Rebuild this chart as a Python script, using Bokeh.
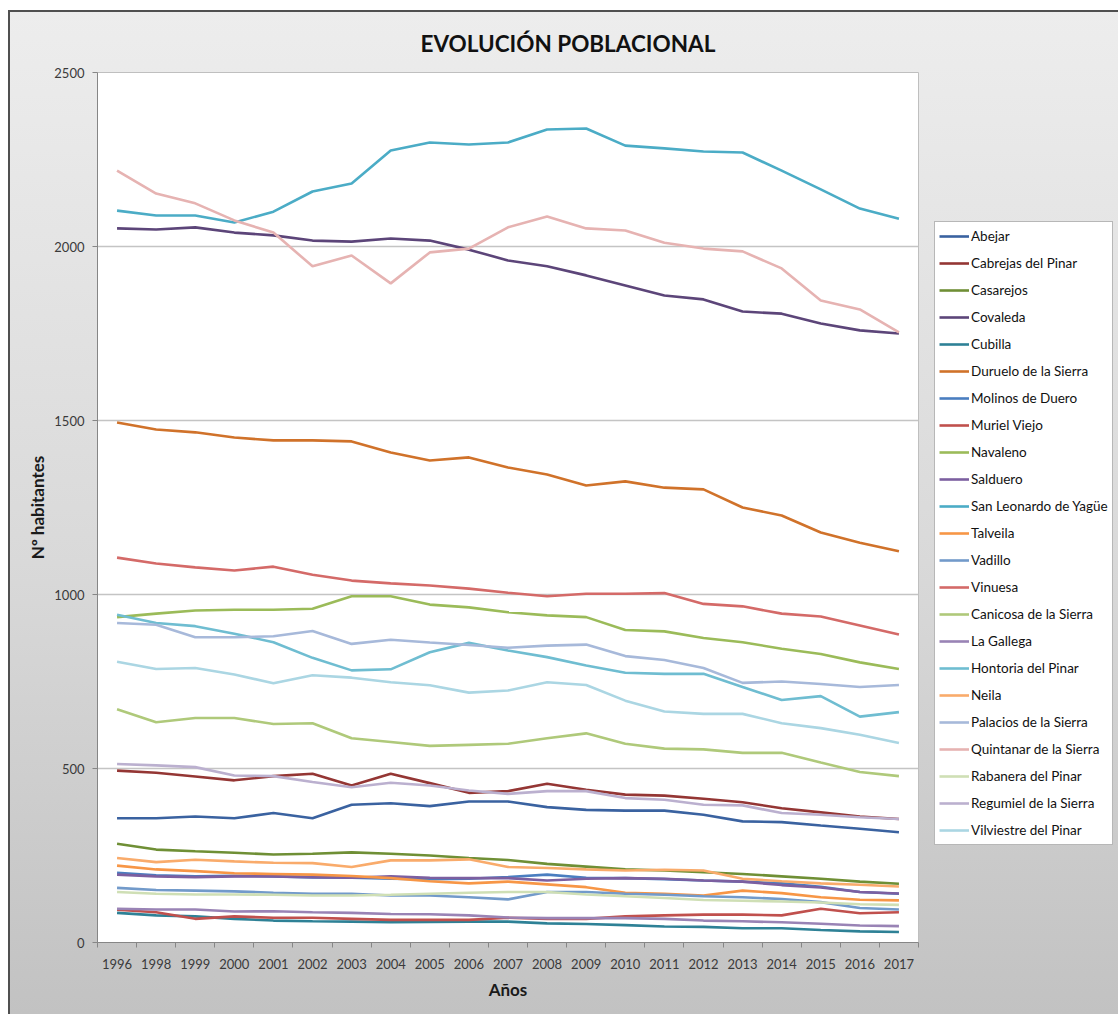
from bokeh.plotting import figure
from bokeh.models import Legend, LegendItem, FixedTicker, Range1d
from bokeh.embed import file_html
from bokeh.resources import INLINE

years = ["1996", "1998", "1999", "2000", "2001", "2002", "2003", "2004", "2005", "2006", "2007",
         "2008", "2009", "2010", "2011", "2012", "2013", "2014", "2015", "2016", "2017"]

abejar = [357, 357, 362, 357, 372, 357, 396, 400, 392, 405, 405, 389, 381, 379, 379, 367, 348, 346, 336, 327, 317]
cabrejas = [494, 488, 477, 466, 478, 485, 451, 485, 458, 430, 435, 456, 439, 425, 422, 413, 403, 386, 374, 362, 355]
casarejos = [284, 267, 262, 258, 253, 255, 259, 255, 250, 243, 237, 226, 218, 210, 207, 202, 197, 190, 183, 175, 169]
covaleda = [2052, 2049, 2055, 2040, 2032, 2017, 2014, 2023, 2017, 1991, 1960, 1943, 1917, 1888, 1859, 1848, 1813, 1807, 1779, 1759, 1750]
cubilla = [85, 78, 75, 68, 63, 61, 60, 58, 59, 60, 60, 55, 53, 50, 46, 45, 41, 41, 36, 32, 30]
duruelo = [1494, 1474, 1466, 1451, 1443, 1443, 1440, 1408, 1385, 1394, 1365, 1345, 1313, 1325, 1307, 1302, 1250, 1227, 1178, 1149, 1124]
molinos = [200, 193, 190, 192, 190, 187, 186, 183, 182, 183, 188, 195, 186, 185, 182, 178, 175, 170, 160, 145, 140]
muriel = [94, 87, 68, 75, 71, 71, 68, 65, 65, 65, 71, 68, 68, 75, 78, 80, 80, 78, 97, 84, 87]
navaleno = [935, 945, 954, 956, 956, 959, 995, 995, 971, 963, 949, 940, 935, 898, 894, 875, 863, 844, 829, 805, 786]
salduero = [195, 190, 188, 190, 190, 188, 186, 190, 186, 185, 185, 178, 183, 185, 183, 178, 175, 165, 158, 145, 141]
san_leonardo = [2103, 2089, 2089, 2069, 2100, 2158, 2181, 2276, 2299, 2293, 2299, 2336, 2339, 2290, 2282, 2273, 2270, 2218, 2164, 2109, 2080]
talveila = [221, 210, 205, 199, 197, 195, 191, 185, 176, 170, 175, 167, 159, 143, 140, 135, 149, 142, 130, 123, 121]
vadillo = [157, 151, 149, 147, 143, 140, 140, 135, 135, 130, 124, 145, 145, 140, 137, 133, 130, 125, 116, 99, 95]
vinuesa = [1106, 1089, 1078, 1069, 1080, 1057, 1040, 1032, 1026, 1017, 1005, 995, 1002, 1002, 1004, 973, 966, 945, 937, 911, 885]
canicosa = [670, 633, 645, 645, 628, 630, 587, 576, 565, 568, 571, 587, 601, 571, 557, 555, 545, 545, 517, 490, 478]
la_gallega = [97, 95, 95, 89, 90, 87, 85, 82, 81, 78, 72, 70, 70, 70, 68, 63, 61, 58, 54, 49, 47]
hontoria = [942, 918, 909, 887, 863, 818, 782, 785, 834, 861, 839, 820, 796, 775, 772, 772, 734, 697, 708, 649, 662]
neila = [243, 231, 238, 233, 229, 228, 217, 236, 236, 239, 217, 214, 210, 207, 209, 207, 183, 176, 170, 166, 161]
palacios = [918, 913, 877, 877, 880, 895, 858, 870, 862, 855, 847, 853, 856, 823, 812, 789, 746, 750, 743, 734, 740]
quintanar = [2218, 2152, 2124, 2075, 2040, 1943, 1974, 1894, 1983, 1994, 2055, 2086, 2052, 2046, 2011, 1994, 1986, 1937, 1845, 1819, 1753]
rabanera = [145, 140, 138, 138, 137, 135, 135, 137, 140, 143, 145, 145, 138, 133, 128, 122, 120, 118, 115, 110, 108]
regumiel = [513, 509, 504, 480, 478, 461, 446, 459, 451, 437, 427, 435, 435, 415, 410, 396, 394, 372, 367, 360, 355]
vilviestre = [807, 786, 789, 770, 745, 768, 761, 748, 739, 718, 724, 748, 740, 695, 664, 657, 657, 630, 616, 597, 573]

names = ["Abejar", "Cabrejas del Pinar", "Casarejos", "Covaleda", "Cubilla", "Duruelo de la Sierra",
         "Molinos de Duero", "Muriel Viejo", "Navaleno", "Salduero", "San Leonardo de Yagüe", "Talveila",
         "Vadillo", "Vinuesa", "Canicosa de la Sierra", "La Gallega", "Hontoria del Pinar", "Neila",
         "Palacios de la Sierra", "Quintanar de la Sierra", "Rabanera del Pinar", "Regumiel de la Sierra",
         "Vilviestre del Pinar"]
series = [abejar, cabrejas, casarejos, covaleda, cubilla, duruelo, molinos, muriel, navaleno, salduero,
          san_leonardo, talveila, vadillo, vinuesa, canicosa, la_gallega, hontoria, neila, palacios,
          quintanar, rabanera, regumiel, vilviestre]
colors = ["#3a62a0", "#943634", "#6f8f35", "#5c4579", "#2e8196", "#d0722a",
          "#4a7ec0", "#c0504d", "#9bbb59", "#7c5fa0", "#4bacc6", "#f79646",
          "#729aca", "#d46a68", "#afc97a", "#9983b5", "#6fbdd1", "#f9ab6b",
          "#a7b9da", "#e6b3b2", "#cfdfb5", "#bbb0cf", "#abd6e3"]

FONT = "Lato"
idx = list(range(len(years)))

p = figure(frame_width=821, frame_height=870, output_backend="svg", toolbar_location=None,
           x_range=Range1d(-0.5, len(years) - 0.5), y_range=Range1d(0, 2500),
           min_border_left=89, min_border_right=198, min_border_top=62, min_border_bottom=72,
           title="EVOLUCIÓN POBLACIONAL")
p.border_fill_color = None
p.background_fill_color = "white"
p.outline_line_color = "#bfbfbf"
p.styles = {"background": "linear-gradient(to bottom, #ededed 0%, #d9d9d9 55%, #c2c2c2 100%)",
            "box-shadow": "inset 2px 2px 0 #505050",
            "margin-left": "8px", "margin-top": "10px"}

p.title.align = "left"
p.title.offset = 323
p.title.standoff = 31
p.title.text_font = FONT
p.title.text_font_size = "22.5px"
p.title.text_font_style = "bold"
p.title.text_color = "#111111"

items = []
for name, vals, col in zip(names, series, colors):
    r = p.line(idx, vals, line_color=col, line_width=2.6)
    items.append(LegendItem(label=name, renderers=[r]))

# axes
p.yaxis.ticker = FixedTicker(ticks=[0, 500, 1000, 1500, 2000, 2500])
p.yaxis.minor_tick_line_color = None
p.yaxis.major_tick_out = 5
p.yaxis.major_tick_in = 0
p.yaxis.major_label_standoff = 8
p.xaxis.ticker = FixedTicker(ticks=idx, minor_ticks=[i - 0.5 for i in range(len(years) + 1)])
p.xaxis.major_label_overrides = {i: y for i, y in zip(idx, years)}
p.xaxis.major_tick_line_color = None
p.xaxis.minor_tick_out = 5
p.xaxis.minor_tick_in = 0
p.xaxis.minor_tick_line_color = "#868686"
p.xaxis.major_label_standoff = 10
for ax in (p.xaxis, p.yaxis):
    ax.axis_line_color = "#868686"
    ax.major_label_text_font = FONT
    ax.major_label_text_font_size = "13px"
    ax.major_label_text_color = "#3a3a3a"
    ax.axis_label_text_font = FONT
    ax.axis_label_text_font_size = "17px"
    ax.axis_label_text_font_style = "bold"
    ax.axis_label_text_color = "#1a1a1a"
p.yaxis.major_tick_line_color = "#868686"
p.xaxis.axis_label = "Años"
p.xaxis.axis_label_standoff = 7
p.yaxis.axis_label = "Nº habitantes"
p.yaxis.axis_label_standoff = 3

p.xgrid.grid_line_color = None
p.ygrid.grid_line_color = "#c4c4c4"
p.ygrid.grid_line_width = 1.3

legend = Legend(items=items, location=(16, 97))
legend.label_text_font = FONT
legend.label_text_font_size = "13.5px"
legend.label_text_color = "#111111"
legend.glyph_width = 30
legend.glyph_height = 20
legend.spacing = 7
legend.label_standoff = 2
legend.padding = 4
legend.margin = 0
legend.border_line_color = "#6f6f6f"
legend.border_line_width = 1.5
legend.background_fill_color = "white"
legend.background_fill_alpha = 1.0
p.add_layout(legend, "right")

open("out.html", "w").write(file_html(p, INLINE))
